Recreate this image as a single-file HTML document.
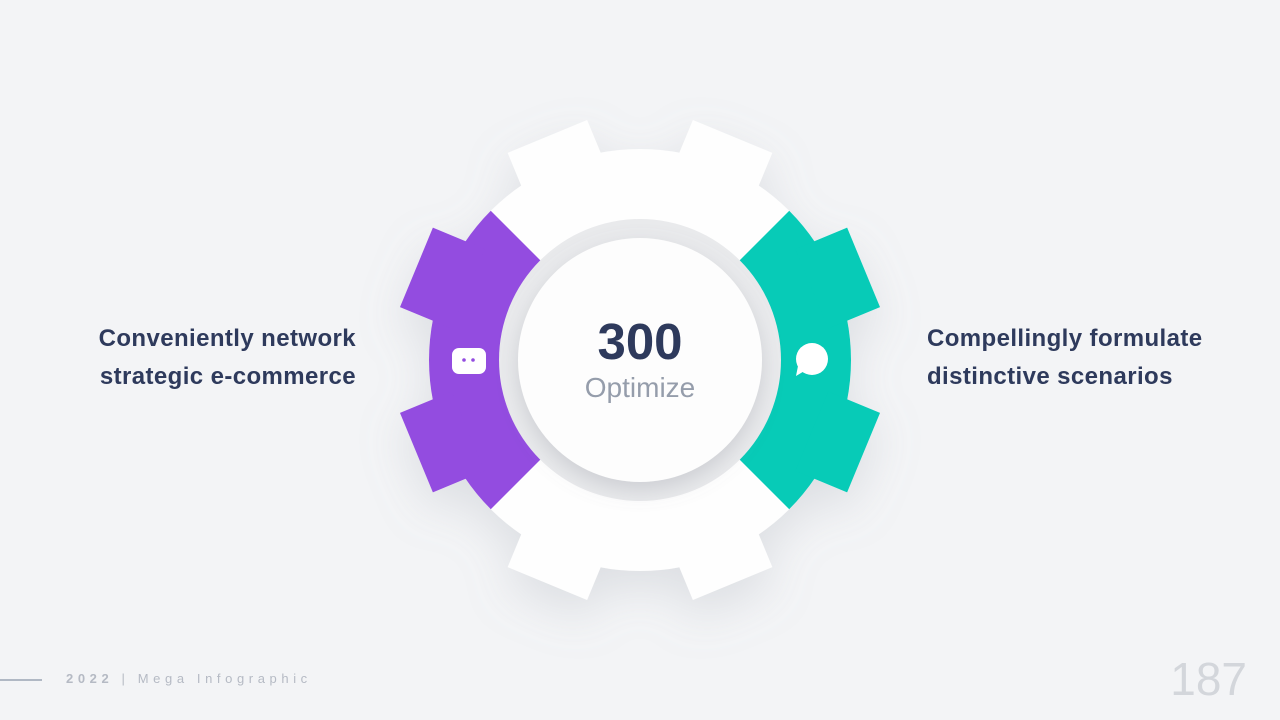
<!DOCTYPE html>
<html><head><meta charset="utf-8"><style>
body{margin:0;width:1280px;height:720px;background:#f3f4f6;position:relative;overflow:hidden;font-family:"Liberation Sans",sans-serif}
.t{position:absolute;font-size:24px;letter-spacing:0.4px;font-weight:bold;color:#2e3a5c;line-height:38px}
</style></head><body>
<svg width="1280" height="720" style="position:absolute;left:0;top:0">
<defs>
<filter id="sh" x="-30%" y="-30%" width="160%" height="170%"><feDropShadow dx="0" dy="18" stdDeviation="22" flood-color="#9aa0ab" flood-opacity="0.25"/></filter>
<filter id="sh2" x="-30%" y="-30%" width="160%" height="160%"><feDropShadow dx="0" dy="8" stdDeviation="10" flood-color="#8a909b" flood-opacity="0.3"/></filter>
<clipPath id="cl"><polygon points="640,360 440,160 100,160 100,560 440,560"/></clipPath>
<clipPath id="cr"><polygon points="640,360 840,160 1180,160 1180,560 840,560"/></clipPath>
</defs>
<g filter="url(#sh)" fill="#fefefe">
<circle cx="640" cy="360" r="211"/>
<g transform="translate(640 360)">
<rect x="-43" y="-242" width="86" height="56" transform="rotate(-22.5)"/>
<rect x="-43" y="-242" width="86" height="56" transform="rotate(22.5)"/>
<rect x="-43" y="-242" width="86" height="56" transform="rotate(67.5)"/>
<rect x="-43" y="-242" width="86" height="56" transform="rotate(112.5)"/>
<rect x="-43" y="-242" width="86" height="56" transform="rotate(157.5)"/>
<rect x="-43" y="-242" width="86" height="56" transform="rotate(202.5)"/>
<rect x="-43" y="-242" width="86" height="56" transform="rotate(247.5)"/>
<rect x="-43" y="-242" width="86" height="56" transform="rotate(292.5)"/>
</g>
</g>
<g clip-path="url(#cl)" fill="#934ce0">
<circle cx="640" cy="360" r="211"/>
<g transform="translate(640 360)">
<rect x="-43" y="-242" width="86" height="56" transform="rotate(247.5)"/>
<rect x="-43" y="-242" width="86" height="56" transform="rotate(292.5)"/>
</g>
</g>
<g clip-path="url(#cr)" fill="#07cbb7">
<circle cx="640" cy="360" r="211"/>
<g transform="translate(640 360)">
<rect x="-43" y="-242" width="86" height="56" transform="rotate(67.5)"/>
<rect x="-43" y="-242" width="86" height="56" transform="rotate(112.5)"/>
</g>
</g>
<circle cx="640" cy="360" r="141" fill="#e9eaec"/>
<circle cx="640" cy="360" r="122" fill="#fdfdfd" filter="url(#sh2)"/>
<rect x="452" y="348" width="34" height="26" rx="7" fill="#fff"/>
<circle cx="464" cy="360" r="1.8" fill="#934ce0"/><circle cx="473" cy="360" r="1.8" fill="#934ce0"/>
<circle cx="812" cy="359" r="16" fill="#fff"/>
<polygon points="798,366 796,376 806,370" fill="#fff"/>
<line x1="0" y1="680" x2="42" y2="680" stroke="#9aa3b4" stroke-width="1.5"/>
</svg>
<div class="t" style="right:924px;top:320px;text-align:right">Conveniently network<br>strategic e-commerce</div>
<div class="t" style="left:927px;top:320px">Compellingly formulate<br>distinctive scenarios</div>
<div style="position:absolute;left:540px;width:200px;top:312px;text-align:center;font-size:51px;font-weight:bold;color:#2e3a5c;line-height:60px">300</div>
<div style="position:absolute;left:540px;width:200px;top:370px;text-align:center;font-size:28px;color:#959dab;line-height:36px">Optimize</div>
<div style="position:absolute;left:66px;top:671px;font-size:13px;letter-spacing:4.6px;color:#b5bac4"><b>2022</b> | Mega Infographic</div>
<div style="position:absolute;right:33px;top:652px;font-size:46px;color:#d3d6db;line-height:54px">187</div>
</body></html>
